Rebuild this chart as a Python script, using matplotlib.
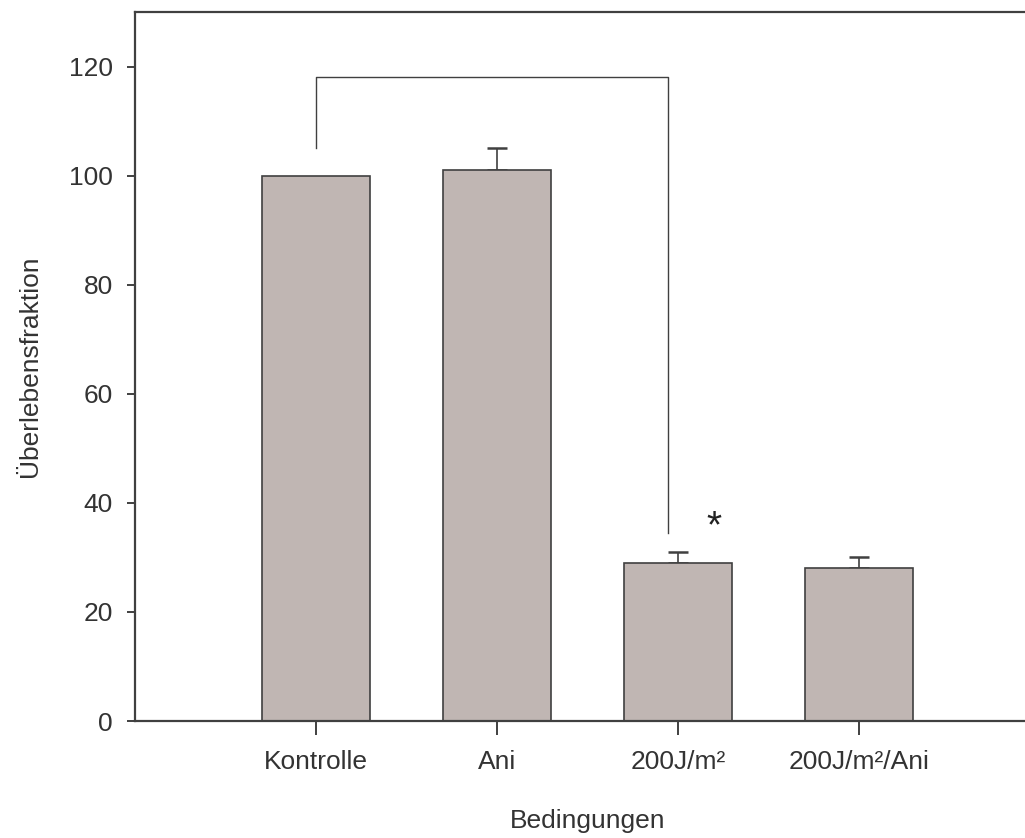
import numpy as np
import matplotlib.pyplot as plt

plt.rcParams['font.family'] = ['Liberation Sans', 'DejaVu Sans']

# data
bedingungen = ["Kontrolle", "Ani", "200J/m²", "200J/m²/Ani"]
fraktion = [100, 101, 29, 28]
fehler = [0, 4, 2, 2]

# significance bracket (Kontrolle vs 200J/m²)
klammer_x = [1, 2.945]
klammer_y = [105, 118, 34.5]
stern_pos = (3.2, 35.5)

textcol = "#333333"
linecol = "#404040"

fig = plt.figure(figsize=(10.25, 8.38), dpi=100)
ax = fig.add_axes([135 / 1025, 1 - 721 / 838, 905 / 1025, (721 - 12) / 838])

x = np.arange(1, len(bedingungen) + 1)
ax.bar(x, fraktion, width=0.6, color="#c0b6b3", edgecolor=linecol, linewidth=1.2, zorder=2)

# one-sided error bars (upward only)
for xi, v, e in zip(x, fraktion, fehler):
    if e > 0:
        ax.errorbar(xi, v, yerr=[[0], [e]], fmt="none", ecolor=linecol,
                    elinewidth=1.2, capsize=7.5, capthick=1.8, zorder=1)

# bracket
ax.plot([klammer_x[0], klammer_x[0], klammer_x[1], klammer_x[1]],
        [klammer_y[0], klammer_y[1], klammer_y[1], klammer_y[2]],
        color=linecol, linewidth=1.0)
ax.text(stern_pos[0], stern_pos[1], "*", fontsize=28, ha="center", va="center", color="#222222")

ax.set_xlim(0, 5)
ax.set_ylim(0, 130)
ax.set_xticks(x)
ax.set_xticklabels(bedingungen)
ax.set_yticks(np.arange(0, 121, 20))

ax.spines["right"].set_visible(False)
for s in ["left", "top", "bottom"]:
    ax.spines[s].set_color(linecol)
    ax.spines[s].set_linewidth(1.6)

ax.tick_params(axis="y", direction="out", length=6, width=1.4, color=linecol,
               labelsize=19, labelcolor=textcol, pad=10)
ax.tick_params(axis="x", direction="out", length=10, width=1.4, color=linecol,
               labelsize=19, labelcolor=textcol, pad=11)

ax.set_xlabel("Bedingungen", fontsize=19, color=textcol, labelpad=25)
ax.set_ylabel("Überlebensfraktion", fontsize=19, color=textcol, labelpad=19)

fig.savefig("out.png", dpi=100)
